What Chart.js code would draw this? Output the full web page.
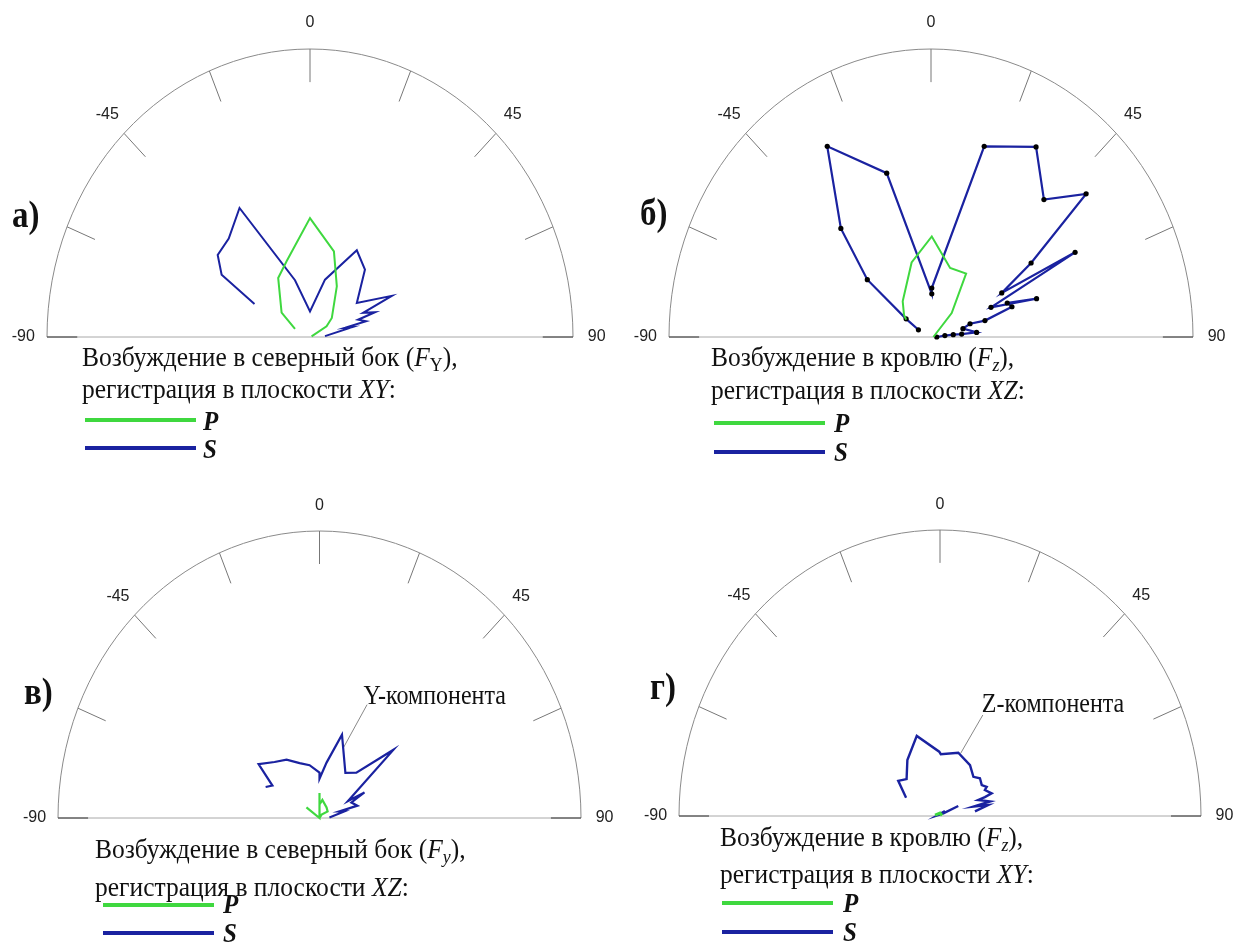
<!DOCTYPE html>
<html>
<head>
<meta charset="utf-8">
<script src="https://cdn.jsdelivr.net/npm/chart.js@4.4.1/dist/chart.umd.min.js"></script>
<style>
body { margin: 0; background: #fff; width: 1236px; height: 942px; position: relative; overflow: hidden; font-family: "Liberation Serif", "Times New Roman", serif; color: #111; }
canvas { position: absolute; }
.lbl { position: absolute; font-weight: bold; font-size: 33px; line-height: 32px; transform: scaleY(1.15); transform-origin: 0 80%; }
.cap { position: absolute; font-size: 25.5px; line-height: 32px; white-space: nowrap; transform: scaleY(1.1); transform-origin: 0 76%; }
.key { position: absolute; height: 4px; width: 111px; }
.let { position: absolute; font-size: 25px; line-height: 26px; font-weight: bold; font-style: italic; transform: scaleY(1.1); transform-origin: 0 50%; }
sub { font-size: 70%; vertical-align: -5px; line-height: 0; }
</style>
</head>
<body>
<canvas id="ca" width="618" height="471" style="left:0;top:0"></canvas>
<canvas id="cb" width="618" height="471" style="left:618px;top:0"></canvas>
<canvas id="cv" width="618" height="471" style="left:0;top:471px"></canvas>
<canvas id="cg" width="618" height="471" style="left:618px;top:471px"></canvas>

<div class="lbl" style="left:12px;top:200px">а)</div>
<div class="lbl" style="left:640px;top:198px">б)</div>
<div class="lbl" style="left:24px;top:677px">в)</div>
<div class="lbl" style="left:650px;top:672px">г)</div>

<div class="cap" style="left:82px;top:342px">Возбуждение в северный бок (<i>F</i><sub>Y</sub>),</div>
<div class="cap" style="left:82px;top:374px">регистрация в плоскости <i>XY</i>:</div>
<div class="key" style="left:85px;top:418px;background:#3fd83f"></div>
<div class="let" style="left:203px;top:408px">P</div>
<div class="key" style="left:85px;top:446px;background:#1a22a0"></div>
<div class="let" style="left:203px;top:436px">S</div>

<div class="cap" style="left:711px;top:342px">Возбуждение в кровлю (<i>F</i><sub><i>z</i></sub>),</div>
<div class="cap" style="left:711px;top:375px">регистрация в плоскости <i>XZ</i>:</div>
<div class="key" style="left:714px;top:421px;background:#3fd83f"></div>
<div class="let" style="left:834px;top:410px">P</div>
<div class="key" style="left:714px;top:450px;background:#1a22a0"></div>
<div class="let" style="left:834px;top:439px">S</div>

<div class="cap" style="left:95px;top:834px">Возбуждение в северный бок (<i>F</i><sub><i>y</i></sub>),</div>
<div class="cap" style="left:95px;top:872px">регистрация в плоскости <i>XZ</i>:</div>
<div class="key" style="left:103px;top:903px;background:#3fd83f"></div>
<div class="let" style="left:223px;top:891px">P</div>
<div class="key" style="left:103px;top:931px;background:#1a22a0"></div>
<div class="let" style="left:223px;top:920px">S</div>

<div class="cap" style="left:720px;top:822px">Возбуждение в кровлю (<i>F</i><sub><i>z</i></sub>),</div>
<div class="cap" style="left:720px;top:859px">регистрация в плоскости <i>XY</i>:</div>
<div class="key" style="left:722px;top:901px;background:#3fd83f"></div>
<div class="let" style="left:843px;top:890px">P</div>
<div class="key" style="left:722px;top:930px;background:#1a22a0"></div>
<div class="let" style="left:843px;top:919px">S</div>

<script>
// angular axis (degrees from vertical)
const tickAngles = [-90, -67.5, -45, -22.5, 0, 22.5, 45, 67.5, 90];
const labelAngles = [-90, -45, 0, 45, 90];
const tickLabels = ['-90', '-45', '0', '45', '90'];

// a) F_Y, XY plane  [x, y] in units of the outer radius
const aP = [[0.006,0.002],[0.063,0.037],[0.083,0.066],[0.102,0.176],[0.091,0.297],[0,0.413],
  [-0.089,0.263],[-0.121,0.205],[-0.108,0.085],[-0.057,0.028]];
const aS = [[-0.211,0.115],[-0.336,0.216],[-0.351,0.285],[-0.309,0.342],[-0.268,0.448],[-0.057,0.197],
  [0,0.089],[0.057,0.199],[0.178,0.301],[0.209,0.234],[0.178,0.118],[0.311,0.143],[0.202,0.084],
  [0.247,0.086],[0.183,0.060],[0.213,0.055],[0.133,0.032],[0.160,0.034],[0.057,0.003]];

// б) F_z, XZ plane
const bP = [[0.009,0],[0.079,0.083],[0.134,0.220],[0.073,0.240],[0.003,0.349],[-0.074,0.259],
  [-0.108,0.124],[-0.103,0.077],[-0.095,0.060]];
const bS = [[-0.048,0.025],[-0.095,0.063],[-0.243,0.199],[-0.344,0.377],[-0.396,0.662],[-0.169,0.569],
  [0.003,0.150],[0.003,0.170],[0.203,0.662],[0.401,0.660],[0.431,0.477],[0.592,0.497],[0.382,0.257],
  [0.270,0.153],[0.550,0.294],[0.229,0.103],[0.403,0.133],[0.291,0.118],[0.309,0.105],[0.206,0.057],
  [0.149,0.046],[0.122,0.029],[0.174,0.016],[0.117,0.010],[0.085,0.008],[0.053,0.005],[0.022,0]];

// в) F_y, XZ plane
const vP = [[-0.050,0.037],[0,0],[0,0.087],[0,0.047],[0.011,0.063],[0.027,0.037],[0.031,0.023],
  [0.008,0.012],[0,0]];
const vS = [[-0.206,0.108],[-0.180,0.113],[-0.233,0.188],[-0.172,0.195],[-0.126,0.203],[-0.076,0.191],
  [-0.038,0.184],[0,0.158],[0,0.137],[0.027,0.193],[0.086,0.290],[0.099,0.157],[0.141,0.158],
  [0.283,0.238],[0.109,0.059],[0.172,0.089],[0.122,0.054],[0.145,0.043],[0.076,0.023],[0.095,0.023],
  [0.038,0.002]];

// г) F_z, XY plane
const gP = [[-0.019,0.003],[0,0.010],[0.008,0.002]];
const gS = [[-0.130,0.064],[-0.160,0.123],[-0.128,0.129],[-0.125,0.196],[-0.089,0.280],[-0.003,0.225],
  [0.003,0.216],[0.070,0.221],[0.115,0.178],[0.128,0.137],[0.153,0.132],[0.160,0.108],[0.179,0.102],
  [0.172,0.091],[0.198,0.079],[0.172,0.066],[0.146,0.056],[0.192,0.051],[0.128,0.033],[0.184,0.038],
  [0.134,0.016]];
const gS2 = [[0.070,0.035],[0.013,0.009],[-0.008,0.003],[0.019,0.017]];

const GREEN = '#3fd83f', BLUE = '#1a22a0';

const frame = {
  id: 'frame',
  beforeDatasetsDraw(chart, args, opts) {
    const { ctx, scales: { x, y } } = chart;
    const pt = (r, a) => [x.getPixelForValue(r * Math.sin(a * Math.PI / 180)),
                          y.getPixelForValue(r * Math.cos(a * Math.PI / 180))];
    const cx = x.getPixelForValue(0), cy = y.getPixelForValue(0);
    ctx.save();
    ctx.lineWidth = 1;
    ctx.strokeStyle = '#8a8a8a';
    ctx.beginPath();
    ctx.ellipse(cx, cy, x.getPixelForValue(1) - cx, cy - y.getPixelForValue(1), 0, Math.PI, 2 * Math.PI);
    ctx.stroke();
    ctx.strokeStyle = '#a8a8a8';
    ctx.beginPath();
    ctx.moveTo(...pt(1, -90));
    ctx.lineTo(...pt(1, 90));
    ctx.stroke();
    tickAngles.forEach(a => {
      ctx.strokeStyle = Math.abs(a) === 90 ? '#333' : '#777';
      ctx.beginPath();
      ctx.moveTo(...pt(1, a));
      ctx.lineTo(...pt(0.885, a));
      ctx.stroke();
    });
    ctx.fillStyle = '#222';
    ctx.font = '16px "Liberation Sans", Arial, sans-serif';
    ctx.textAlign = 'center';
    ctx.textBaseline = 'middle';
    labelAngles.forEach((a, i) => {
      const p = pt(1.09, a);
      ctx.fillText(tickLabels[i], p[0], p[1]);
    });
    if (opts.note) {
      const n = opts.note;
      ctx.strokeStyle = '#888';
      ctx.beginPath();
      ctx.moveTo(x.getPixelForValue(n.from[0]), y.getPixelForValue(n.from[1]));
      ctx.lineTo(x.getPixelForValue(n.to[0]), y.getPixelForValue(n.to[1]));
      ctx.stroke();
      ctx.fillStyle = '#111';
      ctx.font = '24px "Liberation Serif", "Times New Roman", serif';
      ctx.textAlign = 'left';
      ctx.translate(x.getPixelForValue(n.at[0]), y.getPixelForValue(n.at[1]));
      ctx.scale(1, 1.1);
      ctx.fillText(n.text, 0, 0);
    }
    ctx.restore();
  }
};

function line(pts, color, width, dots) {
  return {
    data: pts.map(p => ({ x: p[0], y: p[1] })),
    showLine: true,
    borderColor: color,
    borderWidth: width,
    pointRadius: dots ? 2.6 : 0,
    pointBackgroundColor: '#000',
    pointBorderWidth: 0,
    tension: 0,
    clip: false
  };
}

function panel(id, pad, datasets, note) {
  new Chart(document.getElementById(id), {
    type: 'scatter',
    data: { datasets: datasets },
    options: {
      responsive: false,
      animation: false,
      events: [],
      layout: { padding: pad },
      plugins: { legend: { display: false }, tooltip: { enabled: false }, frame: { note: note } },
      scales: {
        x: { type: 'linear', min: -1, max: 1, display: false },
        y: { type: 'linear', min: 0, max: 1, display: false }
      }
    },
    plugins: [frame]
  });
}

panel('ca', { left: 47, right: 45, top: 49, bottom: 134 },
  [line(aP, GREEN, 2, false), line(aS, BLUE, 2, false)]);
panel('cb', { left: 51, right: 43, top: 49, bottom: 134 },
  [line(bP, GREEN, 2, false), line(bS, BLUE, 2.2, true)]);
panel('cv', { left: 58, right: 37, top: 60, bottom: 124 },
  [line(vP, GREEN, 2.2, false), line(vS, BLUE, 2.2, false)],
  { text: 'Y-компонента', at: [0.168, 0.423], from: [0.182, 0.395], to: [0.091, 0.244] });
panel('cg', { left: 61, right: 35, top: 59, bottom: 126 },
  [line(gP, GREEN, 3, false), line(gS, BLUE, 2.4, false), line(gS2, BLUE, 2.4, false)],
  { text: 'Z-компонента', at: [0.160, 0.388], from: [0.164, 0.353], to: [0.079, 0.219] });
</script>
</body>
</html>
